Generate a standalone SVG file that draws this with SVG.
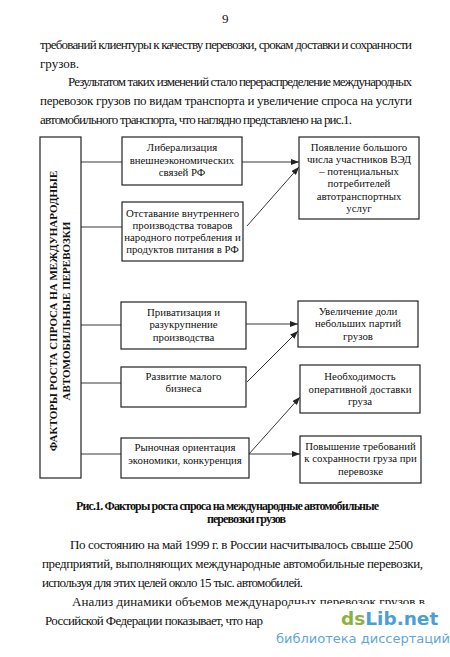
<svg xmlns="http://www.w3.org/2000/svg" width="450" height="657" viewBox="0 0 450 657">
<defs>
<style>
.t{font-family:"Liberation Serif","Times New Roman","DejaVu Serif",serif;font-size:13px;fill:#111}
.cap{font-family:"Liberation Serif","Times New Roman","DejaVu Serif",serif;font-size:12px;font-weight:bold;fill:#111}
.bx{fill:#fff;stroke:#222;stroke-width:1.2}
.bt{font-family:"Liberation Serif","Times New Roman","DejaVu Serif",serif;font-size:10.8px;fill:#111;text-anchor:middle}
.vt{font-family:"Liberation Serif","Times New Roman","DejaVu Serif",serif;font-size:11px;font-weight:bold;fill:#111;text-anchor:middle}
.ln{stroke:#222;stroke-width:0.9;fill:none}
.ar{stroke:#222;stroke-width:0.9;fill:none;marker-end:url(#ah)}
</style>
<marker id="ah" viewBox="0 0 8 6" refX="8" refY="3" markerWidth="8" markerHeight="6" markerUnits="userSpaceOnUse" orient="auto">
<path d="M0,0 L8,3 L0,6 Z" fill="#222"/>
</marker>
</defs>
<rect width="450" height="657" fill="#fff"/>

<g id="page-text">
<text class="t" x="222" y="23" font-size="11">9</text>
<text class="t" x="40" y="49" textLength="372" lengthAdjust="spacing">требований клиентуры к качеству перевозки, срокам доставки и сохранности</text>
<text class="t" x="40" y="68">грузов.</text>
<text class="t" x="68" y="86" textLength="344" lengthAdjust="spacing">Результатом таких изменений стало перераспределение международных</text>
<text class="t" x="40" y="105" textLength="372" lengthAdjust="spacing">перевозок грузов по видам транспорта и увеличение спроса на услуги</text>
<text class="t" x="40" y="124" textLength="312" lengthAdjust="spacing">автомобильного транспорта, что наглядно представлено на рис.1.</text>
</g>

<g id="title">
<rect class="bx" x="40" y="137" width="41" height="341"/>
<text class="vt" transform="translate(57,311) rotate(-90)">ФАКТОРЫ РОСТА СПРОСА НА МЕЖДУНАРОДНЫЕ</text>
<text class="vt" transform="translate(70,311) rotate(-90)">АВТОМОБИЛЬНЫЕ ПЕРЕВОЗКИ</text>
</g>

<g id="connectors">
<line class="ln" x1="81" y1="162" x2="122" y2="162"/>
<line class="ln" x1="81" y1="227" x2="122" y2="227"/>
<line class="ln" x1="81" y1="325" x2="121" y2="325"/>
<line class="ln" x1="81" y1="383" x2="121" y2="383"/>
<line class="ln" x1="81" y1="454" x2="121" y2="454"/>
<line class="ar" x1="242" y1="162" x2="299" y2="162"/>
<line class="ar" x1="247" y1="226" x2="299" y2="167"/>
<line class="ar" x1="246" y1="324" x2="298" y2="324"/>
<line class="ar" x1="247" y1="382" x2="298" y2="331"/>
<line class="ar" x1="249" y1="454" x2="300" y2="397"/>
<line class="ar" x1="249" y1="454" x2="300" y2="454"/>
</g>

<g id="n1">
<rect class="bx" x="122" y="137" width="120" height="48"/>
<text class="bt" x="182" y="151">Либерализация</text>
<text class="bt" x="182" y="163.5">внешнеэкономических</text>
<text class="bt" x="182" y="176">связей РФ</text>
</g>
<g id="n2">
<rect class="bx" x="122" y="202" width="121" height="59"/>
<text class="bt" x="182.5" y="217">Отставание внутреннего</text>
<text class="bt" x="182.5" y="229">производства товаров</text>
<text class="bt" x="182.5" y="241">народного потребления и</text>
<text class="bt" x="182.5" y="253">продуктов питания в РФ</text>
</g>
<g id="n3">
<rect class="bx" x="121" y="302" width="125" height="47"/>
<text class="bt" x="183.5" y="316">Приватизация и</text>
<text class="bt" x="183.5" y="328">разукрупнение</text>
<text class="bt" x="183.5" y="341">производства</text>
</g>
<g id="n4">
<rect class="bx" x="121" y="367" width="125" height="40"/>
<text class="bt" x="183.5" y="380">Развитие малого</text>
<text class="bt" x="183.5" y="392">бизнеса</text>
</g>
<g id="n5">
<rect class="bx" x="121" y="438" width="128" height="40"/>
<text class="bt" x="185" y="451">Рыночная ориентация</text>
<text class="bt" x="185" y="464">экономики, конкуренция</text>
</g>

<g id="nA">
<rect class="bx" x="299" y="137" width="120" height="82"/>
<text class="bt" x="359" y="151">Появление большого</text>
<text class="bt" x="359" y="163">числа участников ВЭД</text>
<text class="bt" x="359" y="175">– потенциальных</text>
<text class="bt" x="359" y="187">потребителей</text>
<text class="bt" x="359" y="200">автотранспортных</text>
<text class="bt" x="359" y="212">услуг</text>
</g>
<g id="nB">
<rect class="bx" x="298" y="301" width="120" height="46"/>
<text class="bt" x="358" y="315">Увеличение доли</text>
<text class="bt" x="358" y="327">небольших партий</text>
<text class="bt" x="358" y="340">грузов</text>
</g>
<g id="nC">
<rect class="bx" x="300" y="365" width="120" height="48"/>
<text class="bt" x="360" y="380">Необходимость</text>
<text class="bt" x="360" y="393">оперативной доставки</text>
<text class="bt" x="360" y="405">груза</text>
</g>
<g id="nD">
<rect class="bx" x="300" y="436" width="121" height="47"/>
<text class="bt" x="360.5" y="450">Повышение требований</text>
<text class="bt" x="360.5" y="462">к сохранности груза при</text>
<text class="bt" x="360.5" y="475">перевозке</text>
</g>

<g id="caption">
<text class="cap" x="76" y="510" textLength="303" lengthAdjust="spacing">Рис.1. Факторы роста спроса на международные автомобильные</text>
<text class="cap" x="207" y="523" textLength="79" lengthAdjust="spacing">перевозки грузов</text>
</g>

<g id="page-text-2">
<text class="t" x="70" y="549" textLength="343" lengthAdjust="spacing">По состоянию на май 1999 г. в России насчитывалось свыше 2500</text>
<text class="t" x="42" y="568" textLength="381" lengthAdjust="spacing">предприятий, выполняющих международные автомобильные перевозки,</text>
<text class="t" x="42" y="587" textLength="261" lengthAdjust="spacing">используя для этих целей около 15 тыс. автомобилей.</text>
<text class="t" x="72" y="606" textLength="353" lengthAdjust="spacing">Анализ динамики объемов международных перевозок грузов в</text>
<text class="t" x="45" y="625" textLength="218" lengthAdjust="spacing">Российской Федерации показывает, что нар</text>
</g>

<g id="watermark">
<polygon points="291,604 450,604 450,657 264,657 264,612 291,612" fill="#fff"/>
<text x="341" y="625" style="font-family:'DejaVu Sans',sans-serif;font-weight:bold;font-size:18.5px"><tspan fill="#8cb23e">ds</tspan><tspan fill="#4b9fd6">Lib.net</tspan></text>
<text x="276" y="643" style="font-family:'DejaVu Sans',sans-serif;font-size:13px;fill:#5ea7db">библиотека диссертаций</text>
</g>
</svg>
